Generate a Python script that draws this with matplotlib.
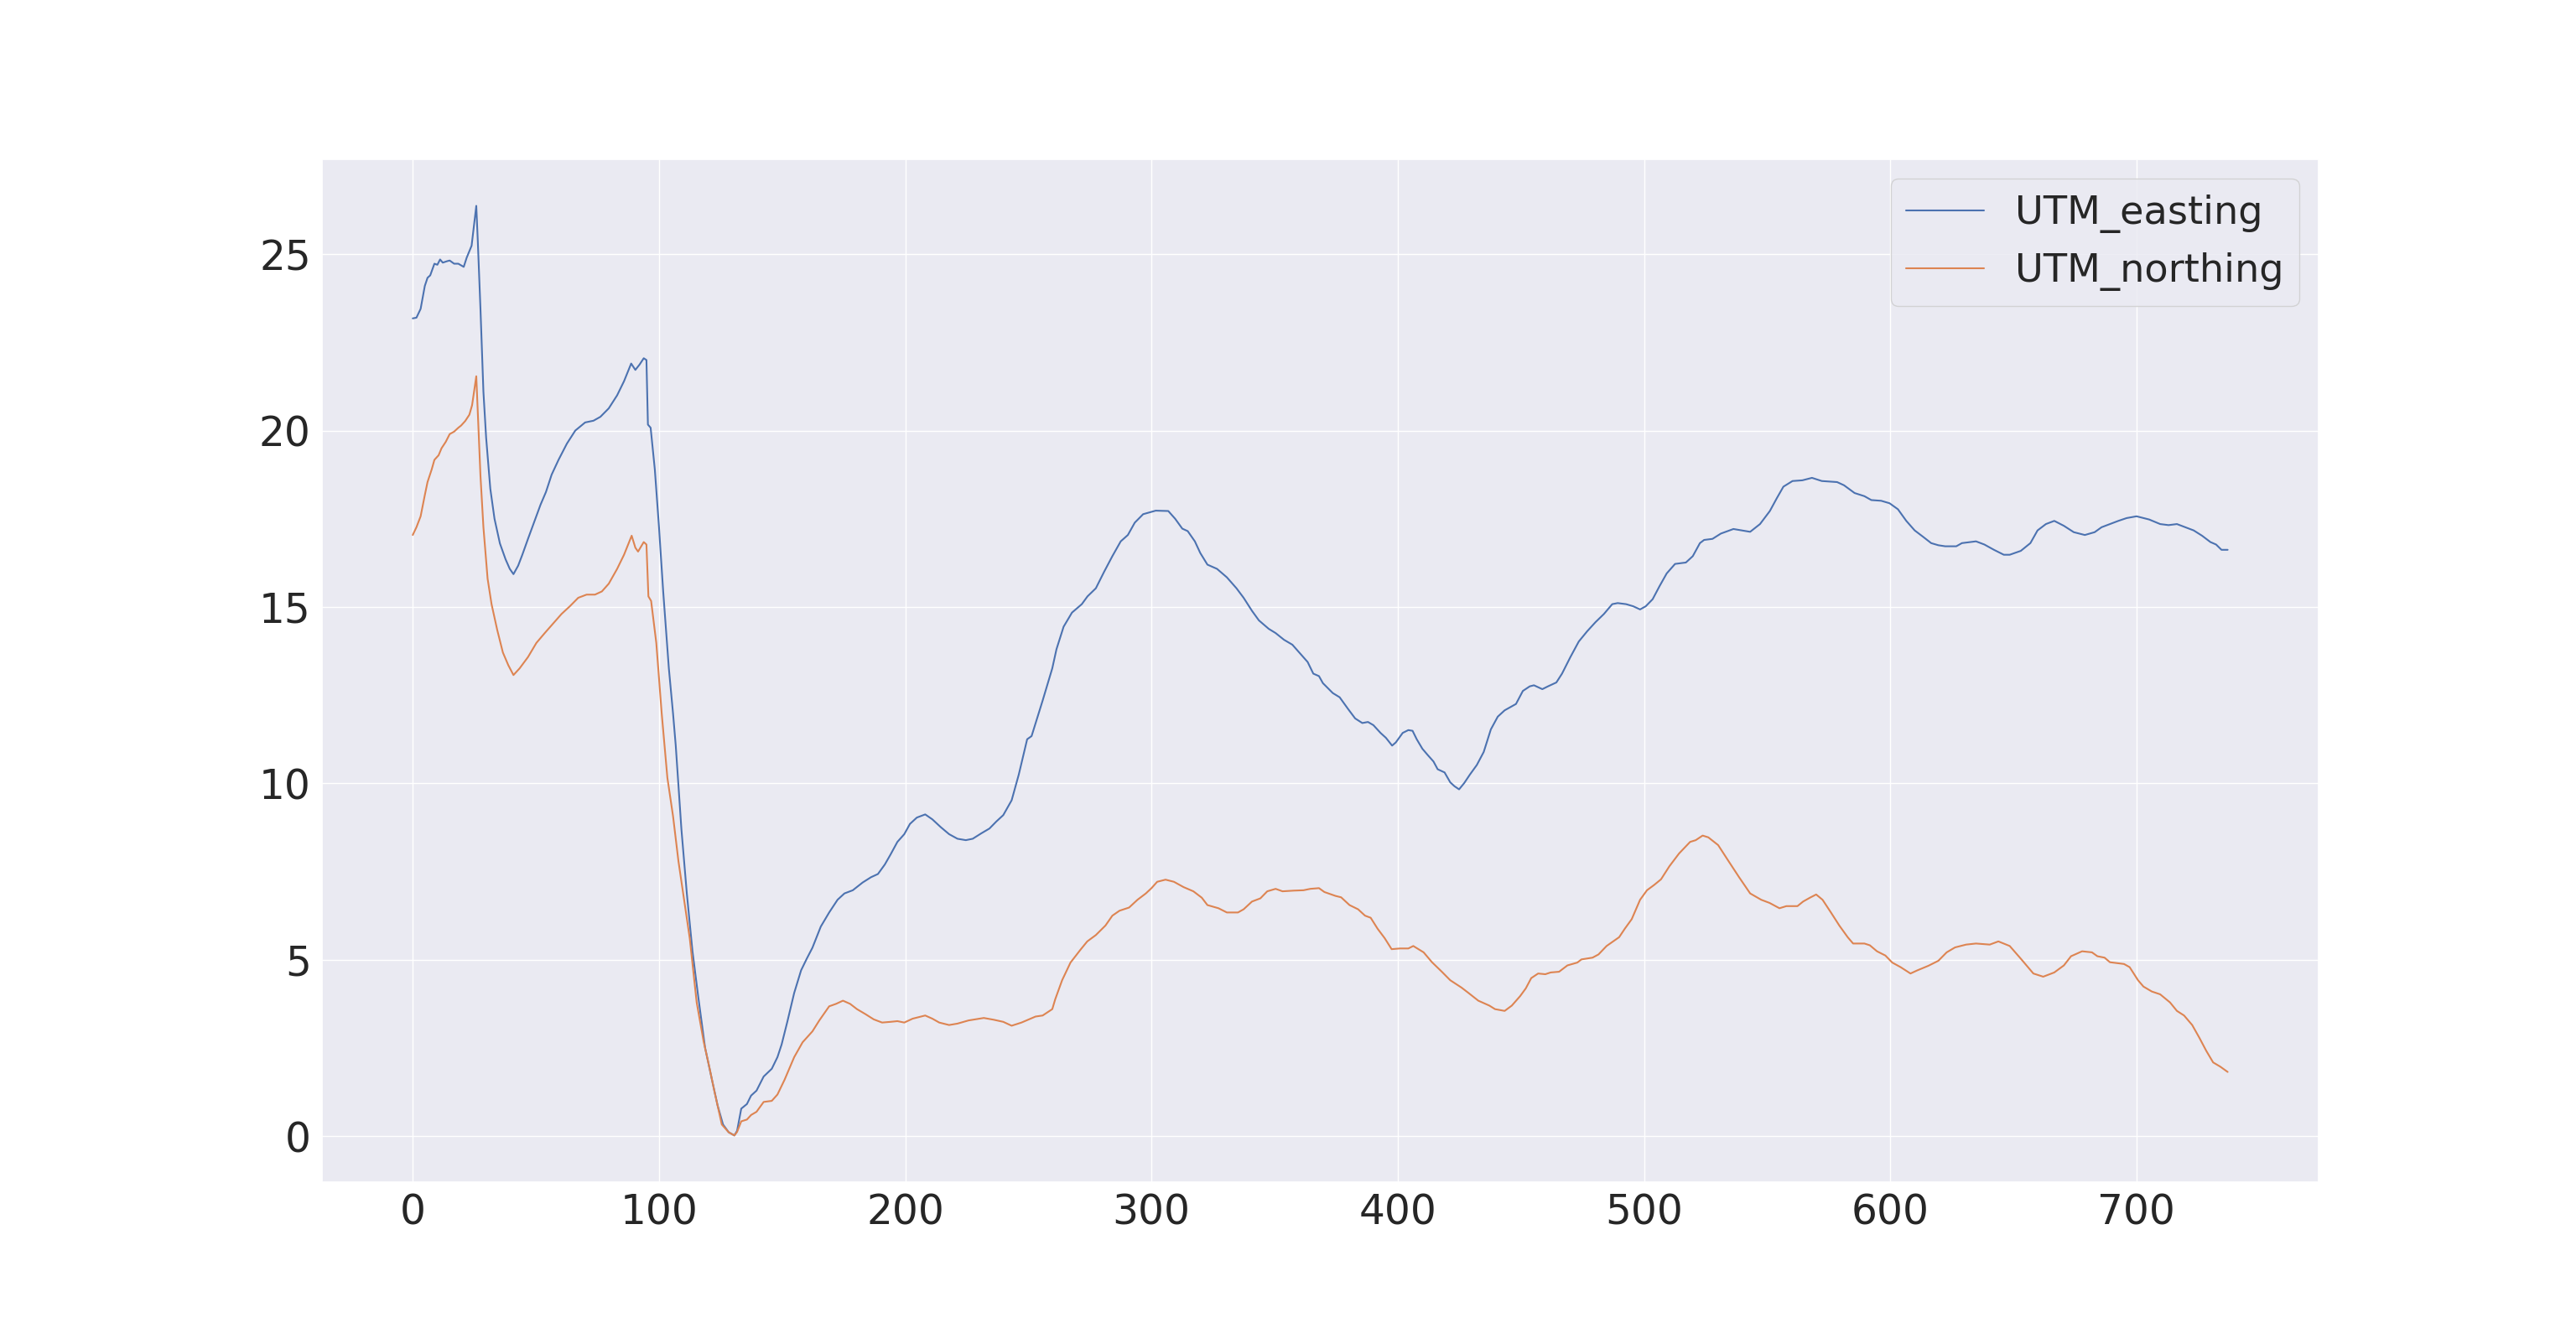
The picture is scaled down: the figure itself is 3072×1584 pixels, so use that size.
import matplotlib
matplotlib.use("Agg")
import matplotlib.pyplot as plt
import seaborn as sns

# ---- data ----
east_x = [0, 1.5, 3.2, 4.9, 6, 7.1, 8.8, 10, 11.1, 12.2, 13.9, 15, 16.8, 18.5, 20.7, 21.9, 23.9, 25.8,
          26.4, 27.5, 28.7, 29.8, 31.5, 33.2, 35.4, 37.7, 39.4, 40.9, 42.8, 44.5, 46.8, 49, 51.9, 54.1,
          56.4, 59.2, 62.6, 66, 70, 73.4, 76.2, 79.6, 83, 85.8, 88.7, 90.4, 92.1, 93.8, 94.9, 95.5, 96.6,
          98.3, 100, 101.7, 104, 105.7, 106.8, 109.1, 111.3, 113.6, 115.9, 118.7, 121.5, 123.8, 126,
          128.3, 130.6, 131.7, 133.4, 135.7, 137.4, 139.6, 142.5, 145.8, 148.1, 149.8, 152.1, 154.9,
          157.7, 160, 162.3, 165.7, 169.1, 172.5, 175.3, 178.7, 182.7, 186.1, 188.9, 191.7, 194, 196.8,
          199.6, 201.9, 204.7, 208.1, 211, 214.4, 217.8, 221.2, 224.6, 227.4, 230.8, 234.2, 237, 239.8,
          243.2, 246.1, 249.5, 251.3, 255.8, 259.7, 261.4, 264.3, 267.7, 271.7, 274, 277.4, 280.7, 284.1,
          287.5, 290.4, 293.2, 296.6, 301.7, 306.8, 309.6, 312.5, 314.7, 317.6, 319.8, 322.7, 326.6,
          330.6, 334.5, 337.4, 340.8, 343.6, 347.6, 350.4, 353.8, 357.2, 360.6, 363.4, 365.7, 368,
          369.6, 373.6, 376.4, 379.8, 382.7, 385.6, 387.9, 390.1, 393, 395.2, 397.7, 399.2, 402, 404.3,
          406, 407.7, 410, 412.2, 414.5, 416.2, 419, 421.3, 423, 424.9, 427, 429.3, 432.1, 434.9, 437.8,
          440.6, 443.4, 445.7, 448, 450.8, 453.6, 455.3, 458.7, 461, 464.4, 466.7, 470.1, 473.5, 476.9,
          480.3, 483.7, 487.1, 489.3, 492.7, 495.6, 498.4, 500.7, 503.5, 506.3, 509.2, 512.6, 517,
          519.8, 522.7, 524.4, 527.8, 531.2, 536.3, 539.7, 543.1, 547.1, 551.1, 553.9, 556.6, 560.3,
          564.3, 568.2, 572.2, 578.4, 581.2, 585.5, 589.5, 592.3, 596.3, 599.7, 603.1, 606.5, 609.9,
          613.3, 616.6, 619.5, 622.3, 626.8, 629.1, 634.8, 638.2, 642.1, 646.1, 648.5, 653, 656.9,
          659.8, 663.2, 666.6, 670.5, 674.5, 679, 683, 685.8, 689.2, 692.6, 696, 700, 705.1, 709.6,
          713, 716.4, 719.8, 723.2, 726.6, 730, 732.3, 734.5, 737]
easting = [23.18, 23.2, 23.45, 24.1, 24.33, 24.4, 24.73, 24.7, 24.85, 24.76, 24.8, 24.82, 24.73, 24.73,
           24.64, 24.9, 25.24, 26.37, 25.4, 23.45, 21.1, 19.8, 18.35, 17.5, 16.8, 16.35, 16.08, 15.93,
           16.17, 16.48, 16.93, 17.35, 17.9, 18.26, 18.75, 19.17, 19.63, 20.0, 20.23, 20.28, 20.39,
           20.63, 21.0, 21.4, 21.9, 21.72, 21.87, 22.05, 22.0, 20.17, 20.08, 18.9, 17.26, 15.44, 13.26,
           11.98, 11.07, 8.7, 6.88, 5.24, 3.97, 2.51, 1.6, 0.87, 0.33, 0.11, 0.02, 0.15, 0.78, 0.91,
           1.15, 1.29, 1.69, 1.91, 2.24, 2.6, 3.24, 4.06, 4.7, 5.03, 5.34, 5.94, 6.34, 6.7, 6.88, 6.97,
           7.19, 7.34, 7.43, 7.7, 7.98, 8.34, 8.56, 8.85, 9.03, 9.12, 8.98, 8.76, 8.56, 8.43, 8.39, 8.43,
           8.58, 8.72, 8.92, 9.1, 9.52, 10.25, 11.25, 11.34, 12.35, 13.26, 13.8, 14.44, 14.84, 15.08,
           15.3, 15.53, 15.99, 16.44, 16.86, 17.04, 17.39, 17.63, 17.73, 17.72, 17.5, 17.22, 17.15,
           16.86, 16.53, 16.2, 16.08, 15.84, 15.53, 15.26, 14.89, 14.62, 14.38, 14.26, 14.07, 13.93,
           13.66, 13.44, 13.11, 13.04, 12.84, 12.56, 12.44, 12.11, 11.84, 11.71, 11.74, 11.65, 11.43,
           11.29, 11.07, 11.16, 11.43, 11.51, 11.49, 11.25, 10.98, 10.8, 10.62, 10.4, 10.31, 10.03,
           9.92, 9.83, 10.01, 10.25, 10.52, 10.89, 11.53, 11.89, 12.07, 12.16, 12.25, 12.62, 12.75,
           12.78, 12.67, 12.75, 12.86, 13.11, 13.58, 14.02, 14.31, 14.57, 14.8, 15.08, 15.11, 15.08,
           15.02, 14.93, 15.02, 15.22, 15.59, 15.95, 16.22, 16.26, 16.44, 16.81, 16.9, 16.93, 17.08,
           17.21, 17.17, 17.13, 17.35, 17.72, 18.08, 18.41, 18.57, 18.59, 18.66, 18.57, 18.54, 18.45,
           18.23, 18.14, 18.03, 18.01, 17.94, 17.77, 17.44, 17.17, 16.99, 16.81, 16.75, 16.72, 16.72,
           16.81, 16.86, 16.77, 16.62, 16.48, 16.48, 16.59, 16.81, 17.17, 17.35, 17.44, 17.3, 17.12,
           17.04, 17.12, 17.26, 17.35, 17.44, 17.52, 17.57, 17.48, 17.35, 17.32, 17.35, 17.26, 17.17,
           17.02, 16.84, 16.77, 16.62, 16.62]

north_x = [0, 1.5, 3.2, 4.9, 6, 7.7, 8.8, 10.5, 11.7, 13.4, 15, 16.8, 18.5, 19.6, 21.3, 23, 24.1, 25.8,
           26.4, 27.5, 28.7, 30.4, 32, 34.3, 36.6, 38.8, 40.9, 43.4, 46.8, 50.2, 53.6, 57, 60.4, 63.8,
           67.2, 70.6, 74, 76.8, 79.6, 83, 85.8, 88.9, 90.4, 91.5, 93.8, 94.9, 95.7, 96.8, 98.9, 101.1,
           103.4, 105.7, 107.9, 110.2, 112.5, 115.3, 118.1, 120.4, 122.6, 125.5, 128.3, 130.6, 131.7,
           133.4, 135.7, 137.4, 139.6, 142.5, 145.8, 148.1, 151, 154.9, 158.3, 162.3, 165.1, 169.1,
           171.9, 174.7, 177.6, 180.4, 183.8, 187.2, 190.6, 194, 196.8, 199.6, 203, 208.1, 211, 213.8,
           217.8, 221.2, 225.7, 231.9, 235.9, 239.8, 243.2, 247.2, 252.9, 255.8, 259.7, 260.9, 263.7,
           267.1, 271.1, 273.9, 277.4, 281.3, 284.1, 287, 290.9, 294.3, 297.7, 300, 302.3, 305.7, 309.1,
           313, 317, 320.4, 322.7, 327.2, 330.6, 335.1, 337.4, 340.8, 344.2, 347, 350.4, 353.2, 357.8,
           361.7, 364.5, 368, 370.2, 374.7, 377, 380.4, 383.9, 386.7, 389, 391.8, 394.7, 397.5, 400.9,
           404.3, 406.3, 410.5, 413.9, 417.9, 421.3, 425.9, 428.7, 432.7, 437.2, 439.5, 443.4, 446.3,
           449.7, 452, 454.2, 457, 459.9, 462.1, 465.5, 468.9, 472.9, 474.6, 479.1, 481.5, 484.8, 489.9,
           492.2, 495, 498.4, 501.2, 504.1, 506.9, 510.3, 514.2, 518.7, 521, 523.8, 526.1, 530.1, 534,
           538.6, 543.1, 547.6, 551, 555, 557.8, 562.3, 564.6, 567.4, 569.9, 572.5, 575.9, 579.3, 582.7,
           584.9, 589.5, 591.7, 594.6, 598, 600.8, 604.2, 608.2, 611, 615.5, 619.5, 622.9, 626.3, 630.8,
           634.8, 640.4, 643.9, 648.5, 653, 658.1, 662.1, 666.6, 670.5, 673.4, 677.9, 681.9, 684.1, 687,
           689.2, 694.9, 697.2, 700.6, 702.8, 706.2, 709.6, 713.6, 716.4, 719.3, 722.6, 725.5, 728.3,
           731.1, 734, 737]
northing = [17.04, 17.26, 17.57, 18.17, 18.54, 18.9, 19.17, 19.3, 19.5, 19.68, 19.9, 19.97, 20.08, 20.14,
            20.27, 20.45, 20.72, 21.54, 20.54, 18.72, 17.26, 15.8, 15.08, 14.35, 13.71, 13.35, 13.07,
            13.26, 13.58, 13.98, 14.26, 14.53, 14.8, 15.02, 15.26, 15.35, 15.35, 15.44, 15.66, 16.08,
            16.48, 17.02, 16.68, 16.57, 16.84, 16.77, 15.3, 15.17, 13.98, 11.98, 10.16, 9.07, 7.79, 6.7,
            5.6, 3.79, 2.69, 1.97, 1.24, 0.33, 0.11, 0.02, 0.12, 0.42, 0.47, 0.6, 0.69, 0.97, 1.0, 1.18,
            1.6, 2.24, 2.66, 2.97, 3.28, 3.68, 3.75, 3.84, 3.75, 3.6, 3.46, 3.31, 3.22, 3.24, 3.26, 3.22,
            3.33, 3.42, 3.33, 3.22, 3.15, 3.19, 3.28, 3.35, 3.3, 3.24, 3.13, 3.22, 3.39, 3.42, 3.6, 3.88,
            4.42, 4.92, 5.28, 5.52, 5.7, 5.97, 6.25, 6.39, 6.48, 6.7, 6.88, 7.03, 7.21, 7.27, 7.21, 7.06,
            6.94, 6.76, 6.55, 6.46, 6.34, 6.34, 6.43, 6.65, 6.74, 6.94, 7.01, 6.94, 6.96, 6.97, 7.01,
            7.03, 6.92, 6.81, 6.77, 6.55, 6.43, 6.25, 6.19, 5.88, 5.61, 5.3, 5.32, 5.32, 5.39, 5.21, 4.93,
            4.66, 4.42, 4.21, 4.06, 3.84, 3.7, 3.6, 3.55, 3.7, 3.97, 4.19, 4.48, 4.61, 4.59, 4.64, 4.66,
            4.84, 4.92, 5.01, 5.06, 5.15, 5.39, 5.64, 5.88, 6.15, 6.7, 6.97, 7.12, 7.28, 7.65, 8.01, 8.34,
            8.39, 8.52, 8.47, 8.25, 7.83, 7.34, 6.88, 6.7, 6.61, 6.46, 6.52, 6.52, 6.65, 6.76, 6.85, 6.7,
            6.34, 5.97, 5.64, 5.46, 5.46, 5.41, 5.24, 5.12, 4.92, 4.79, 4.61, 4.7, 4.83, 4.97, 5.21, 5.35,
            5.43, 5.46, 5.43, 5.52, 5.39, 5.03, 4.61, 4.52, 4.64, 4.84, 5.1, 5.24, 5.21, 5.1, 5.06, 4.93,
            4.88, 4.79, 4.42, 4.24, 4.1, 4.02, 3.79, 3.55, 3.42, 3.15, 2.79, 2.42, 2.09, 1.97, 1.82]

labels = ["UTM_easting", "UTM_northing"]
x_ticks = [0, 100, 200, 300, 400, 500, 600, 700]
y_ticks = [0, 5, 10, 15, 20, 25]

sns.set_theme(style="darkgrid")
plt.rcParams['font.family'] = ['DejaVu Sans']

fig, ax = plt.subplots(figsize=(30.72, 15.84), dpi=100)
pal = sns.color_palette("deep")
ax.plot(east_x, easting, color=pal[0], lw=1.5, label=labels[0])
ax.plot(north_x, northing, color=pal[1], lw=1.5, label=labels[1])
ax.set_xticks(x_ticks)
ax.set_yticks(y_ticks)
ax.tick_params(labelsize=35)
ax.legend(loc="upper right", fontsize=33.3)
fig.savefig("out.png", dpi=100)
